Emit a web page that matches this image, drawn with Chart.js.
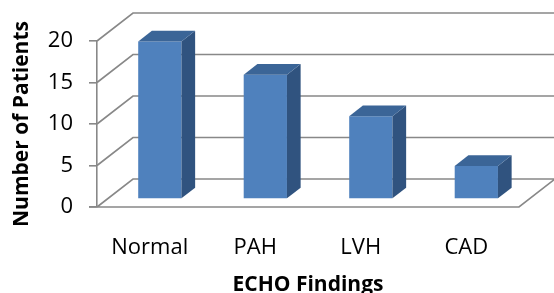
<!DOCTYPE html>
<html><head><meta charset="utf-8">
<script src="https://cdn.jsdelivr.net/npm/chart.js@4/dist/chart.umd.min.js"></script>
<style>html,body{margin:0;padding:0;background:#fff;overflow:hidden}#wrap{width:554px;height:293px;position:relative}</style>
</head><body><div id="wrap"><canvas id="c"></canvas></div>
<script>
const categories = ['Normal', 'PAH', 'LVH', 'CAD'];
const patients = [19, 15, 10, 4];
const yTicks = [0, 5, 10, 15, 20];
const xTitle = 'ECHO Findings';
const yTitle = 'Number of Patients';

const DEPTH_X = 36, DEPTH_Y = -28;
const BAR_OFF = 0.28, BAR_DEPTH = 0.38;
const GRID = '#888888';
const FRONT = '#4F81BD', SIDE = '#30537F', TOP = '#3B6597';
const FONT = "'Open Sans', 'Liberation Sans', sans-serif";

const threeD = {
  id: 'threeD',
  beforeDatasetsDraw(chart) {
    const {ctx, chartArea: a, scales: {y}} = chart;
    ctx.save();
    ctx.strokeStyle = GRID; ctx.lineWidth = 1.6;
    ctx.beginPath();
    yTicks.forEach(v => {
      const py = y.getPixelForValue(v);
      ctx.moveTo(a.left, py);
      ctx.lineTo(a.left + DEPTH_X, py + DEPTH_Y);
      ctx.lineTo(a.right + DEPTH_X + 5, py + DEPTH_Y);
    });
    const y0 = y.getPixelForValue(0);
    ctx.moveTo(a.left - 8, y0);
    ctx.lineTo(a.right, y0);
    ctx.lineTo(a.right + DEPTH_X, y0 + DEPTH_Y);
    ctx.stroke();
    ctx.restore();
    ctx.save();
    ctx.translate(DEPTH_X * BAR_OFF, DEPTH_Y * BAR_OFF);
  },
  afterDatasetsDraw(chart) {
    const ctx = chart.ctx;
    const dx = DEPTH_X * BAR_DEPTH, dy = DEPTH_Y * BAR_DEPTH;
    chart.getDatasetMeta(0).data.forEach(b => {
      const {x: cx, y: top, base, width} = b.getProps(['x', 'y', 'base', 'width'], true);
      const l = cx - width / 2, r = cx + width / 2;
      ctx.fillStyle = SIDE;
      ctx.beginPath();
      ctx.moveTo(r, top); ctx.lineTo(r + dx, top + dy); ctx.lineTo(r + dx, base + dy); ctx.lineTo(r, base);
      ctx.closePath(); ctx.fill();
      ctx.fillStyle = TOP;
      ctx.beginPath();
      ctx.moveTo(l, top); ctx.lineTo(l + dx, top + dy); ctx.lineTo(r + dx, top + dy); ctx.lineTo(r, top);
      ctx.closePath(); ctx.fill();
    });
    ctx.restore();
  }
};

new Chart(document.getElementById('c'), {
  type: 'bar',
  data: {
    labels: categories,
    datasets: [{
      data: patients,
      backgroundColor: FRONT,
      borderWidth: 0,
      categoryPercentage: 1,
      barPercentage: 0.41,
      clip: false
    }]
  },
  plugins: [threeD],
  options: {
    responsive: true,
    maintainAspectRatio: false,
    animation: false,
    events: [],
    layout: {padding: {top: 41, right: 35, left: 0, bottom: 0}},
    plugins: {legend: {display: false}, tooltip: {enabled: false}},
    scales: {
      x: {
        grid: {display: false},
        border: {display: false},
        ticks: {color: '#000', font: {family: FONT, size: 22}, padding: 20, maxRotation: 0},
        title: {display: true, text: xTitle, color: '#000', font: {family: FONT, size: 21, weight: 'bold'}, padding: {top: 0, bottom: -5}},
        afterFit(s) { s.height = 86; }
      },
      y: {
        min: 0, max: 20,
        afterBuildTicks(s) { s.ticks = yTicks.map(v => ({value: v})); },
        grid: {drawOnChartArea: false, tickLength: 8, color: GRID, lineWidth: 1.6},
        border: {display: true, color: GRID, width: 1.6},
        ticks: {color: '#000', font: {family: FONT, size: 22}, padding: 16},
        title: {display: true, text: yTitle, color: '#000', font: {family: FONT, size: 21, weight: 'bold'}, padding: {top: 9, bottom: 0}},
        afterFit(s) { s.width = 97; }
      }
    }
  }
});
</script>
</body></html>
